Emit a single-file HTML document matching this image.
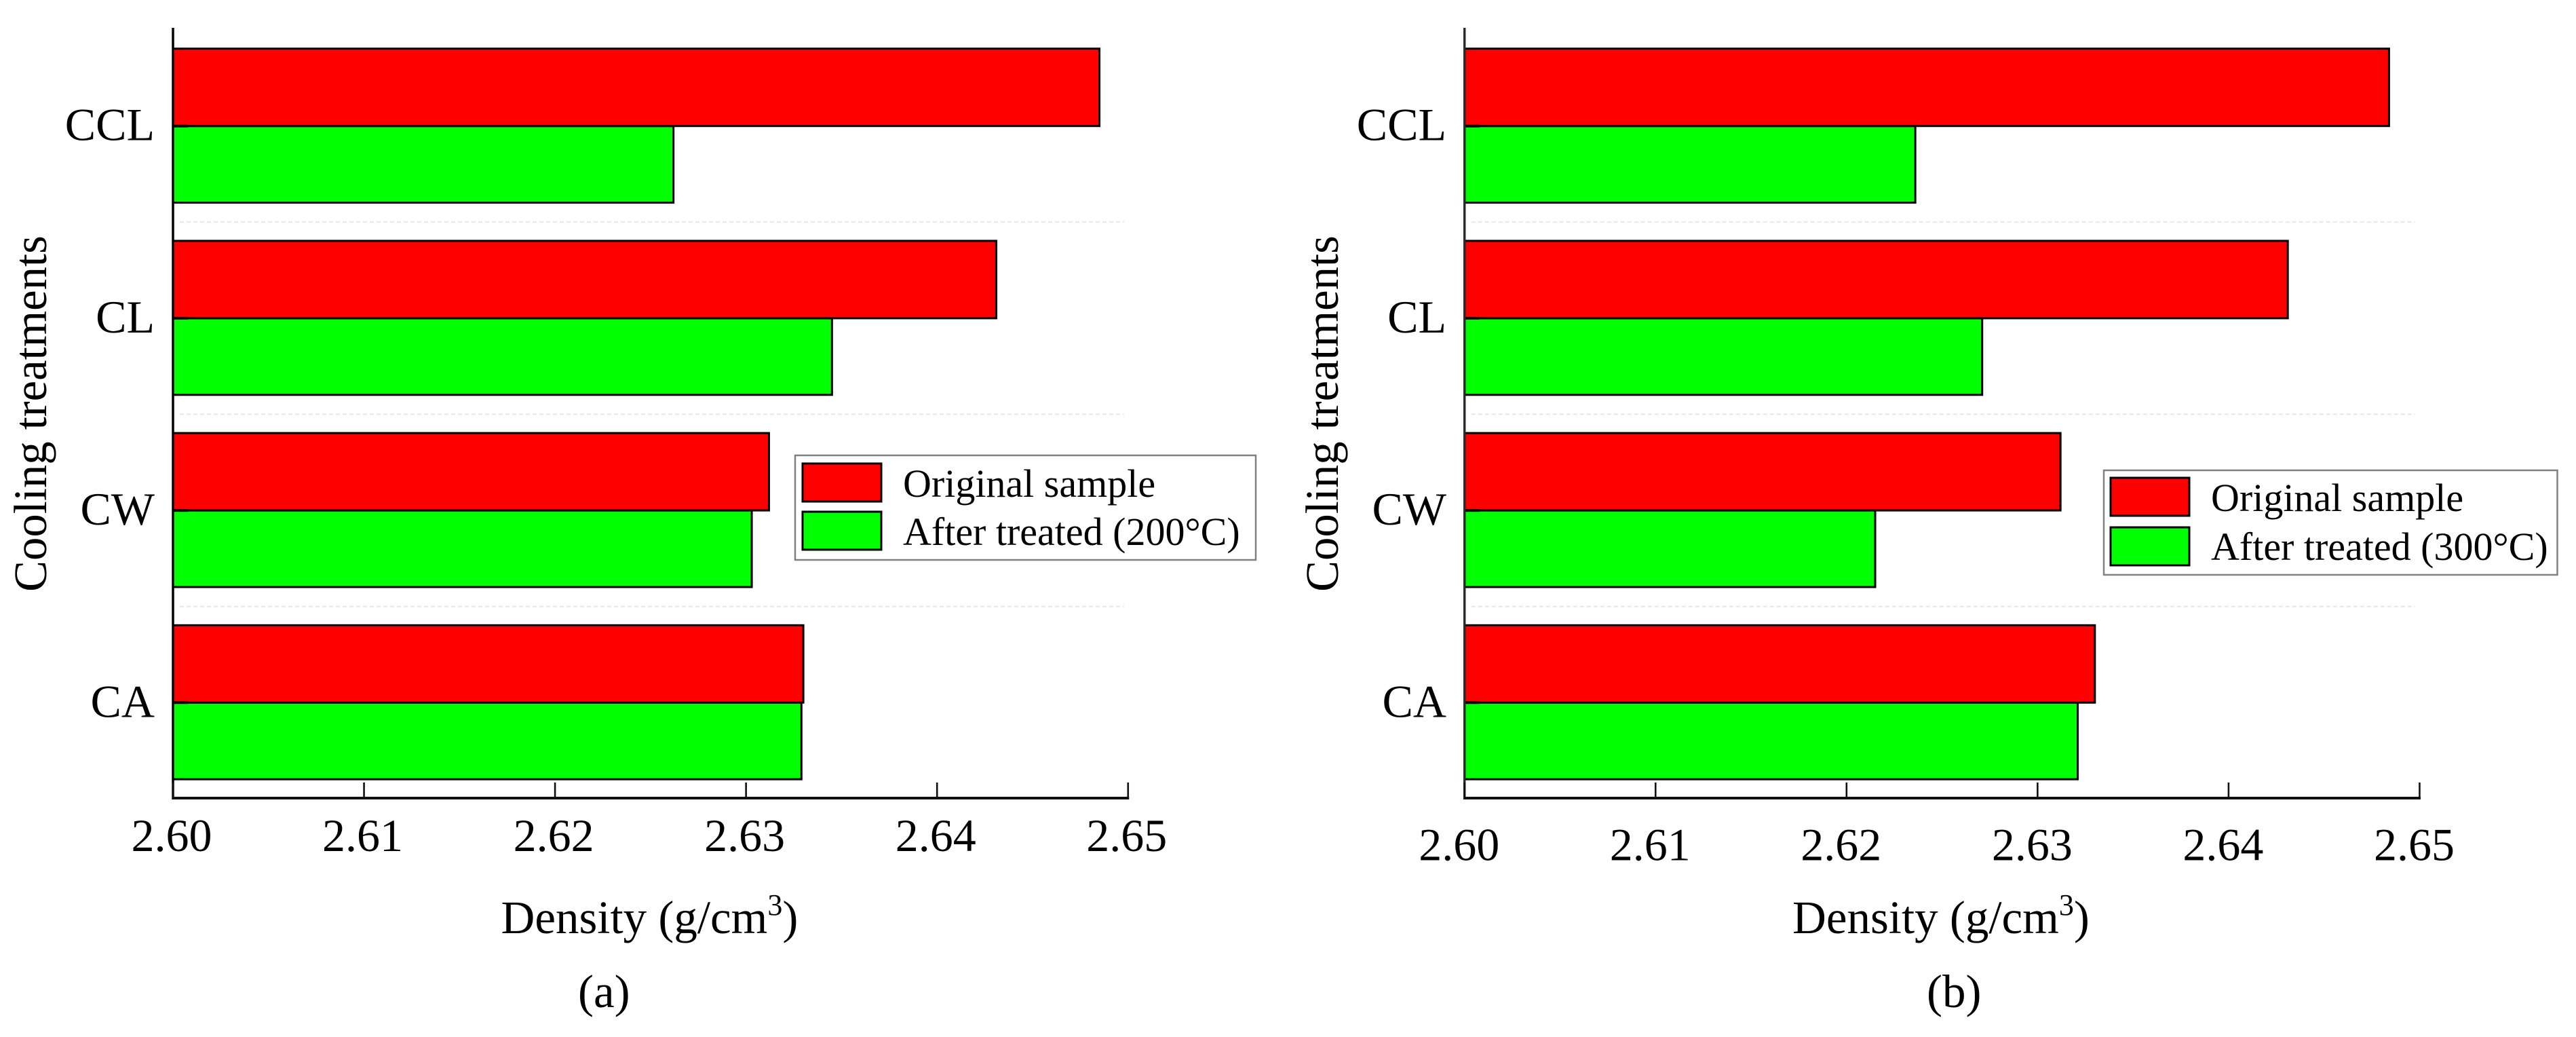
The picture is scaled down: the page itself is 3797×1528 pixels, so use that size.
<!DOCTYPE html>
<html lang="en">
<head>
<meta charset="utf-8">
<title>Density by cooling treatment</title>
<style>
  html, body { margin: 0; padding: 0; background: #fff; }
  svg { display: block; }
  text { font-family: "Liberation Serif", "Times New Roman", serif; fill: #000; }
</style>
</head>
<body>
<svg id="figure" xmlns="http://www.w3.org/2000/svg" width="3797" height="1528" viewBox="0 0 3797 1528">
  <rect width="3797" height="1528" fill="#fff"/>
  <g id="panel-a"></g>
  <g id="panel-b"></g>

  <text x="68" y="609.5" font-size="68.7" text-anchor="middle" transform="rotate(-90 68 609.5)">Cooling treatments</text>
  <text x="738.5" y="1375" font-size="69">Density (g/cm<tspan font-size="44" dy="-27">3</tspan><tspan dy="27">)</tspan></text>
  <text x="852" y="1484" font-size="69">(a)</text>

  <g>
    <rect x="1172" y="671" width="679" height="154" fill="#fff" stroke="#808080" stroke-width="2.5"/>
    <rect x="1183" y="683" width="116" height="56" fill="#ff0000" stroke="#000" stroke-width="3"/>
    <text x="1331" y="732" font-size="58">Original sample</text>
    <rect x="1183" y="754" width="116" height="56" fill="#00ff00" stroke="#000" stroke-width="3"/>
    <text x="1331" y="803" font-size="58">After treated (200°C)</text>
  </g>

  <text x="1972" y="609.5" font-size="68.7" text-anchor="middle" transform="rotate(-90 1972 609.5)">Cooling treatments</text>
  <text x="2642" y="1375" font-size="69">Density (g/cm<tspan font-size="44" dy="-27">3</tspan><tspan dy="27">)</tspan></text>
  <text x="2840" y="1484" font-size="69">(b)</text>

  <g>
    <rect x="3101" y="693" width="668.5" height="154" fill="#fff" stroke="#808080" stroke-width="2.5"/>
    <rect x="3111" y="704" width="116" height="56" fill="#ff0000" stroke="#000" stroke-width="3"/>
    <text x="3259" y="753" font-size="58">Original sample</text>
    <rect x="3111" y="777" width="116" height="56" fill="#00ff00" stroke="#000" stroke-width="3"/>
    <text x="3259" y="825" font-size="58">After treated (300°C)</text>
  </g>
</svg>

<script>
const categories = ["CCL", "CL", "CW", "CA"];
const xTickValues = [2.60, 2.61, 2.62, 2.63, 2.64, 2.65];
const xTickLabels = ["2.60", "2.61", "2.62", "2.63", "2.64", "2.65"];
const originalA = [2.6485, 2.6431, 2.6312, 2.6330];
const treatedA = [2.6262, 2.6345, 2.6303, 2.6329];
const originalB = [2.6484, 2.6431, 2.6312, 2.6330];
const treatedB = [2.6236, 2.6271, 2.6215, 2.6321];

const SVG_NS = "http://www.w3.org/2000/svg";

function make(tag, parent, props) {
  const el = document.createElementNS(SVG_NS, tag);
  for (const key in props) {
    el.setAttribute(key, props[key]);
  }
  parent.appendChild(el);
  return el;
}

function drawPanel(panel) {
  const root = document.getElementById(panel.id);
  const xScale = (v) => panel.xStart + (v - 2.60) / 0.01 * 281.55;
  const bandCenter = (i) => 185.7 + i * 283.2;
  const axisY = 1176;

  categories.forEach(function (cat, i) {
    if (i === categories.length - 1) return;
    const grid = make("line", root, {
      x1: panel.xStart + 10,
      x2: xScale(2.65) - 6,
      y1: bandCenter(i) + 141.5,
      y2: bandCenter(i) + 141.5,
      stroke: "#e6e6e6",
      "stroke-width": 2,
      "stroke-dasharray": "6 4"
    });
    
    
  });

  categories.forEach(function (cat, i) {
    const treatedBar = make("rect", root, {
      x: panel.xStart,
      y: bandCenter(i),
      width: xScale(panel.treated[i]) - panel.xStart,
      height: 112.9,
      fill: "#00ff00",
      stroke: "#000",
      "stroke-width": 3
    });
    
    

    const originalBar = make("rect", root, {
      x: panel.xStart,
      y: bandCenter(i) - 114,
      width: xScale(panel.original[i]) - panel.xStart,
      height: 114,
      fill: "#ff0000",
      stroke: "#000",
      "stroke-width": 3
    });
    
    

    const yTick = make("line", root, {
      x1: panel.xStart,
      x2: panel.xStart + 22,
      y1: bandCenter(i),
      y2: bandCenter(i),
      stroke: "#000",
      "stroke-width": 4
    });
    
    

    const yLabel = make("text", root, {
      x: panel.labelRight,
      y: bandCenter(i) + 21,
      "font-size": 68,
      "text-anchor": "end"
    });
    yLabel.textContent = cat;
    
    
  });

  const yAxis = make("line", root, {
    x1: panel.xStart,
    x2: panel.xStart,
    y1: 41,
    y2: axisY + 2,
    stroke: panel.yAxisColor,
    "stroke-width": 3.5
  });
  
  

  const xAxis = make("line", root, {
    x1: panel.xStart - 1.5,
    x2: xScale(2.65) + 1.5,
    y1: axisY,
    y2: axisY,
    stroke: "#111",
    "stroke-width": 4
  });
  
  

  xTickValues.forEach(function (value, i) {
    const tick = make("line", root, {
      x1: xScale(value),
      x2: xScale(value),
      y1: 1153,
      y2: axisY,
      stroke: "#111",
      "stroke-width": 2.6
    });
    
    

    const label = make("text", root, {
      x: xScale(value) + panel.tickLabelShift,
      y: panel.tickLabelBaseline,
      "font-size": 68,
      "text-anchor": "middle"
    });
    label.textContent = xTickLabels[i];
    
    
  });
}

drawPanel({
  id: "panel-a",
  xStart: 255,
  labelRight: 228,
  tickLabelShift: -2,
  tickLabelBaseline: 1254,
  yAxisColor: "#000",
  original: originalA,
  treated: treatedA
});

drawPanel({
  id: "panel-b",
  xStart: 2158.7,
  labelRight: 2132,
  tickLabelShift: -8,
  tickLabelBaseline: 1267.5,
  yAxisColor: "#2b2b2b",
  original: originalB,
  treated: treatedB
});
</script>
</body>
</html>
